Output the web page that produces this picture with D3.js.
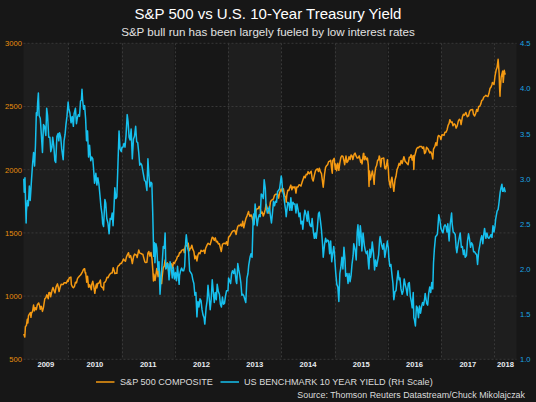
<!DOCTYPE html>
<html><head><meta charset="utf-8">
<script src="https://cdn.jsdelivr.net/npm/d3@7"></script>
<style>html,body{margin:0;padding:0;background:#171717;}svg{display:block;font-family:"Liberation Sans",Arial,sans-serif;}</style>
</head><body><svg id="c" width="536" height="402"></svg>
<script>
const titleText = "S&P 500 vs U.S. 10-Year Treasury Yield";
const subtitleText = "S&P bull run has been largely fueled by low interest rates";
const sourceText = "Source: Thomson Reuters Datastream/Chuck Mikolajczak";
const seriesNames = ["S&P 500 COMPOSITE", "US BENCHMARK 10 YEAR YIELD (RH Scale)"];
const leftTicks = [500, 1000, 1500, 2000, 2500, 3000];
const rightTicks = [1.0, 1.5, 2.0, 2.5, 3.0, 3.5, 4.0, 4.5];
const years = [2009, 2010, 2011, 2012, 2013, 2014, 2015, 2016, 2017, 2018];

const spx = [
["2009-03-02",700],["2009-03-09",677],["2009-03-13",757],["2009-03-20",768],["2009-03-26",816],["2009-03-30",787],["2009-04-03",843],["2009-04-09",857],["2009-04-17",870],["2009-04-20",832],["2009-04-24",866],["2009-05-01",878],["2009-05-08",929],["2009-05-14",884],["2009-05-19",908],["2009-05-27",893],["2009-06-03",932],["2009-06-12",946],["2009-06-19",921],["2009-06-23",896],["2009-06-30",919],["2009-07-08",879],["2009-07-14",905],["2009-07-24",979],["2009-07-31",987],["2009-08-07",1010],["2009-08-17",980],["2009-08-21",1027],["2009-08-28",1029],["2009-09-02",995],["2009-09-11",1042],["2009-09-18",1068],["2009-09-25",1044],["2009-10-02",1025],["2009-10-09",1071],["2009-10-19",1097],["2009-10-23",1079],["2009-10-30",1036],["2009-11-06",1069],["2009-11-13",1093],["2009-11-20",1091],["2009-11-27",1092],["2009-12-04",1106],["2009-12-11",1106],["2009-12-18",1102],["2009-12-28",1127],["2009-12-31",1115],
["2010-01-08",1145],["2010-01-19",1150],["2010-01-22",1092],["2010-01-29",1074],["2010-02-05",1066],["2010-02-12",1075],["2010-02-19",1109],["2010-02-26",1104],["2010-03-05",1138],["2010-03-12",1150],["2010-03-19",1159],["2010-03-26",1167],["2010-04-02",1179],["2010-04-09",1194],["2010-04-15",1211],["2010-04-23",1217],["2010-04-27",1183],["2010-04-30",1187],["2010-05-06",1128],["2010-05-07",1110],["2010-05-13",1157],["2010-05-20",1071],["2010-05-25",1074],["2010-05-28",1089],["2010-06-04",1065],["2010-06-08",1050],["2010-06-11",1092],["2010-06-18",1117],["2010-06-25",1076],["2010-07-02",1022],["2010-07-09",1078],["2010-07-14",1096],["2010-07-16",1065],["2010-07-23",1102],["2010-07-30",1102],["2010-08-09",1127],["2010-08-13",1080],["2010-08-20",1071],["2010-08-27",1065],["2010-08-31",1049],["2010-09-03",1105],["2010-09-10",1110],["2010-09-17",1125],["2010-09-24",1149],["2010-10-01",1146],["2010-10-08",1165],["2010-10-15",1176],["2010-10-22",1183],["2010-10-29",1183],["2010-11-05",1225],["2010-11-12",1199],["2010-11-16",1178],["2010-11-23",1180],["2010-11-30",1180],["2010-12-03",1224],["2010-12-10",1240],["2010-12-17",1244],["2010-12-23",1257],["2010-12-31",1258],
["2011-01-07",1272],["2011-01-14",1293],["2011-01-21",1283],["2011-01-28",1276],["2011-02-04",1310],["2011-02-11",1329],["2011-02-18",1343],["2011-02-24",1306],["2011-03-04",1321],["2011-03-10",1295],["2011-03-16",1257],["2011-03-25",1314],["2011-04-01",1332],["2011-04-08",1328],["2011-04-15",1320],["2011-04-18",1305],["2011-04-29",1364],["2011-05-06",1340],["2011-05-13",1338],["2011-05-20",1333],["2011-05-27",1331],["2011-06-03",1300],["2011-06-10",1271],["2011-06-15",1266],["2011-06-24",1268],["2011-07-01",1340],["2011-07-07",1353],["2011-07-15",1316],["2011-07-22",1345],["2011-07-29",1292],["2011-08-04",1200],["2011-08-08",1119],["2011-08-11",1172],["2011-08-19",1124],["2011-08-26",1177],["2011-08-31",1219],["2011-09-09",1154],["2011-09-16",1216],["2011-09-22",1130],["2011-09-30",1131],["2011-10-03",1099],["2011-10-07",1155],["2011-10-14",1224],["2011-10-21",1238],["2011-10-27",1285],["2011-11-01",1219],["2011-11-04",1253],["2011-11-11",1263],["2011-11-18",1216],["2011-11-25",1159],["2011-11-30",1247],["2011-12-09",1255],["2011-12-16",1219],["2011-12-23",1265],["2011-12-30",1258],
["2012-01-06",1278],["2012-01-13",1289],["2012-01-20",1315],["2012-01-27",1316],["2012-02-03",1345],["2012-02-10",1343],["2012-02-17",1362],["2012-02-24",1366],["2012-03-02",1370],["2012-03-06",1344],["2012-03-09",1371],["2012-03-16",1404],["2012-03-23",1397],["2012-03-30",1408],["2012-04-02",1419],["2012-04-10",1358],["2012-04-13",1370],["2012-04-20",1378],["2012-04-27",1403],["2012-05-04",1369],["2012-05-11",1353],["2012-05-18",1295],["2012-05-25",1318],["2012-06-01",1278],["2012-06-08",1325],["2012-06-15",1343],["2012-06-22",1335],["2012-06-29",1362],["2012-07-06",1355],["2012-07-13",1357],["2012-07-20",1363],["2012-07-25",1338],["2012-07-31",1379],["2012-08-10",1405],["2012-08-17",1418],["2012-08-24",1411],["2012-08-31",1407],["2012-09-07",1438],["2012-09-14",1466],["2012-09-21",1460],["2012-09-28",1441],["2012-10-05",1461],["2012-10-12",1429],["2012-10-19",1433],["2012-10-26",1412],["2012-11-02",1414],["2012-11-09",1380],["2012-11-15",1353],["2012-11-23",1409],["2012-11-30",1416],["2012-12-07",1418],["2012-12-14",1413],["2012-12-21",1430],["2012-12-28",1402],["2012-12-31",1426],
["2013-01-04",1466],["2013-01-11",1472],["2013-01-18",1486],["2013-01-25",1503],["2013-02-01",1513],["2013-02-08",1518],["2013-02-15",1520],["2013-02-25",1488],["2013-03-01",1518],["2013-03-08",1551],["2013-03-15",1560],["2013-03-22",1556],["2013-03-28",1569],["2013-04-05",1553],["2013-04-11",1593],["2013-04-18",1541],["2013-04-26",1582],["2013-05-03",1614],["2013-05-10",1633],["2013-05-21",1669],["2013-05-24",1650],["2013-05-31",1631],["2013-06-07",1643],["2013-06-14",1626],["2013-06-24",1573],["2013-06-28",1606],["2013-07-05",1632],["2013-07-12",1680],["2013-07-19",1692],["2013-07-26",1691],["2013-08-02",1710],["2013-08-09",1691],["2013-08-16",1655],["2013-08-23",1664],["2013-08-30",1633],["2013-09-06",1655],["2013-09-13",1688],["2013-09-18",1726],["2013-09-27",1692],["2013-10-04",1691],["2013-10-08",1655],["2013-10-18",1745],["2013-10-25",1759],["2013-11-01",1762],["2013-11-08",1771],["2013-11-15",1798],["2013-11-22",1805],["2013-11-29",1806],["2013-12-06",1805],["2013-12-13",1775],["2013-12-20",1818],["2013-12-31",1848],
["2014-01-03",1832],["2014-01-10",1842],["2014-01-15",1848],["2014-01-24",1790],["2014-01-31",1783],["2014-02-03",1742],["2014-02-07",1797],["2014-02-14",1838],["2014-02-21",1836],["2014-02-28",1859],["2014-03-07",1878],["2014-03-14",1841],["2014-03-21",1866],["2014-03-28",1857],["2014-04-04",1865],["2014-04-11",1815],["2014-04-17",1864],["2014-04-25",1863],["2014-05-02",1881],["2014-05-09",1878],["2014-05-15",1870],["2014-05-23",1900],["2014-05-30",1924],["2014-06-06",1949],["2014-06-13",1936],["2014-06-20",1963],["2014-06-27",1961],["2014-07-03",1985],["2014-07-11",1968],["2014-07-18",1978],["2014-07-24",1988],["2014-07-31",1931],["2014-08-07",1910],["2014-08-15",1955],["2014-08-22",1988],["2014-08-29",2003],["2014-09-05",2007],["2014-09-12",1985],["2014-09-18",2011],["2014-09-26",1982],["2014-10-03",1968],["2014-10-10",1906],["2014-10-15",1862],["2014-10-24",1965],["2014-10-31",2018],["2014-11-07",2032],["2014-11-14",2039],["2014-11-21",2064],["2014-11-28",2067],["2014-12-05",2075],["2014-12-12",2002],["2014-12-16",1972],["2014-12-19",2071],["2014-12-29",2090],["2014-12-31",2059],
["2015-01-06",2003],["2015-01-09",2045],["2015-01-15",1992],["2015-01-23",2051],["2015-01-30",1995],["2015-02-06",2055],["2015-02-13",2097],["2015-02-20",2110],["2015-02-27",2105],["2015-03-06",2071],["2015-03-11",2040],["2015-03-20",2108],["2015-03-26",2057],["2015-04-02",2067],["2015-04-10",2102],["2015-04-17",2081],["2015-04-24",2117],["2015-05-01",2108],["2015-05-06",2080],["2015-05-15",2123],["2015-05-21",2131],["2015-05-29",2107],["2015-06-05",2092],["2015-06-12",2094],["2015-06-19",2110],["2015-06-29",2058],["2015-07-02",2077],["2015-07-08",2046],["2015-07-17",2127],["2015-07-20",2129],["2015-07-24",2079],["2015-07-31",2104],["2015-08-07",2078],["2015-08-14",2092],["2015-08-20",2036],["2015-08-25",1868],["2015-08-28",1989],["2015-09-04",1921],["2015-09-11",1961],["2015-09-17",1990],["2015-09-25",1932],["2015-09-29",1884],["2015-10-02",1951],["2015-10-09",2015],["2015-10-16",2033],["2015-10-23",2075],["2015-10-30",2079],["2015-11-03",2109],["2015-11-06",2099],["2015-11-13",2023],["2015-11-20",2089],["2015-11-27",2090],["2015-12-04",2092],["2015-12-11",2012],["2015-12-14",2022],["2015-12-18",2006],["2015-12-29",2078],["2015-12-31",2044],
["2016-01-04",2013],["2016-01-08",1922],["2016-01-15",1880],["2016-01-20",1859],["2016-01-22",1907],["2016-01-29",1940],["2016-02-05",1880],["2016-02-11",1829],["2016-02-19",1918],["2016-02-26",1948],["2016-03-04",2000],["2016-03-11",2022],["2016-03-18",2050],["2016-03-24",2036],["2016-04-01",2073],["2016-04-08",2048],["2016-04-15",2081],["2016-04-20",2102],["2016-04-29",2065],["2016-05-06",2058],["2016-05-13",2047],["2016-05-19",2040],["2016-05-27",2099],["2016-06-03",2099],["2016-06-08",2119],["2016-06-16",2077],["2016-06-23",2113],["2016-06-27",2001],["2016-07-01",2103],["2016-07-08",2130],["2016-07-15",2162],["2016-07-22",2175],["2016-07-29",2174],["2016-08-05",2183],["2016-08-12",2184],["2016-08-19",2184],["2016-08-26",2169],["2016-09-02",2180],["2016-09-09",2128],["2016-09-16",2139],["2016-09-22",2177],["2016-09-30",2168],["2016-10-07",2153],["2016-10-14",2133],["2016-10-21",2141],["2016-10-28",2126],["2016-11-04",2085],["2016-11-09",2163],["2016-11-18",2182],["2016-11-25",2213],["2016-12-02",2192],["2016-12-09",2259],["2016-12-13",2271],["2016-12-23",2264],["2016-12-30",2239],
["2017-01-06",2277],["2017-01-13",2275],["2017-01-20",2271],["2017-01-26",2297],["2017-02-03",2297],["2017-02-10",2316],["2017-02-17",2351],["2017-02-24",2367],["2017-03-01",2396],["2017-03-10",2373],["2017-03-17",2378],["2017-03-22",2348],["2017-03-31",2363],["2017-04-07",2355],["2017-04-13",2329],["2017-04-21",2349],["2017-04-28",2384],["2017-05-05",2399],["2017-05-12",2391],["2017-05-17",2357],["2017-05-26",2416],["2017-06-02",2439],["2017-06-09",2432],["2017-06-19",2453],["2017-06-23",2438],["2017-06-29",2419],["2017-07-07",2425],["2017-07-14",2459],["2017-07-21",2473],["2017-07-27",2475],["2017-08-04",2477],["2017-08-10",2438],["2017-08-18",2425],["2017-08-25",2444],["2017-09-01",2476],["2017-09-08",2461],["2017-09-15",2500],["2017-09-22",2502],["2017-09-29",2519],["2017-10-06",2549],["2017-10-13",2553],["2017-10-20",2575],["2017-10-27",2581],["2017-11-03",2588],["2017-11-10",2582],["2017-11-17",2579],["2017-11-24",2602],["2017-12-01",2642],["2017-12-08",2652],["2017-12-15",2675],["2017-12-18",2690],["2017-12-29",2674],
["2018-01-05",2743],["2018-01-12",2786],["2018-01-19",2810],["2018-01-26",2873],["2018-02-02",2762],["2018-02-05",2649],["2018-02-08",2581],["2018-02-09",2620],["2018-02-16",2732],["2018-02-26",2780],["2018-03-02",2691],["2018-03-09",2786],["2018-03-13",2765],["2018-03-16",2752]
];

const yld = [
["2009-03-02",3.00],["2009-03-05",2.85],["2009-03-10",3.01],["2009-03-18",2.51],["2009-03-20",2.64],["2009-03-27",2.76],["2009-04-02",2.70],["2009-04-09",2.92],["2009-04-15",2.76],["2009-04-24",2.99],["2009-05-01",3.16],["2009-05-08",3.29],["2009-05-15",3.14],["2009-05-21",3.37],["2009-05-27",3.73],["2009-06-01",3.70],["2009-06-05",3.84],["2009-06-10",3.95],["2009-06-15",3.70],["2009-06-23",3.67],["2009-06-30",3.50],["2009-07-08",3.29],["2009-07-15",3.60],["2009-07-22",3.58],["2009-07-31",3.48],["2009-08-06",3.78],["2009-08-12",3.70],["2009-08-20",3.46],["2009-08-28",3.46],["2009-09-03",3.30],["2009-09-11",3.35],["2009-09-16",3.46],["2009-09-24",3.36],["2009-10-01",3.20],["2009-10-07",3.18],["2009-10-15",3.47],["2009-10-23",3.50],["2009-10-28",3.42],["2009-11-02",3.51],["2009-11-10",3.46],["2009-11-17",3.33],["2009-11-27",3.21],["2009-12-03",3.42],["2009-12-10",3.49],["2009-12-16",3.60],["2009-12-23",3.69],["2009-12-31",3.85],
["2010-01-05",3.77],["2010-01-12",3.73],["2010-01-20",3.62],["2010-01-28",3.69],["2010-02-05",3.58],["2010-02-10",3.72],["2010-02-19",3.78],["2010-02-26",3.61],["2010-03-05",3.68],["2010-03-12",3.71],["2010-03-19",3.69],["2010-03-26",3.86],["2010-04-01",3.87],["2010-04-05",3.99],["2010-04-09",3.88],["2010-04-16",3.77],["2010-04-23",3.81],["2010-04-30",3.66],["2010-05-06",3.42],["2010-05-13",3.53],["2010-05-20",3.24],["2010-05-27",3.37],["2010-06-04",3.20],["2010-06-11",3.24],["2010-06-18",3.22],["2010-06-24",3.10],["2010-06-30",2.95],["2010-07-09",3.06],["2010-07-16",2.93],["2010-07-23",3.01],["2010-07-30",2.94],["2010-08-06",2.82],["2010-08-13",2.69],["2010-08-20",2.61],["2010-08-25",2.50],["2010-08-31",2.47],["2010-09-09",2.77],["2010-09-15",2.73],["2010-09-22",2.56],["2010-09-30",2.51],["2010-10-08",2.39],["2010-10-15",2.56],["2010-10-22",2.55],["2010-10-29",2.62],["2010-11-04",2.48],["2010-11-10",2.67],["2010-11-16",2.90],["2010-11-23",2.78],["2010-11-30",2.80],["2010-12-07",3.13],["2010-12-15",3.53],["2010-12-22",3.33],["2010-12-31",3.30],
["2011-01-04",3.35],["2011-01-11",3.35],["2011-01-18",3.39],["2011-01-25",3.35],["2011-02-01",3.48],["2011-02-09",3.71],["2011-02-15",3.63],["2011-02-22",3.46],["2011-03-01",3.43],["2011-03-08",3.55],["2011-03-16",3.22],["2011-03-24",3.44],["2011-03-31",3.47],["2011-04-08",3.58],["2011-04-15",3.41],["2011-04-22",3.40],["2011-04-29",3.29],["2011-05-06",3.15],["2011-05-13",3.17],["2011-05-20",3.15],["2011-05-31",3.05],["2011-06-08",2.98],["2011-06-15",2.97],["2011-06-24",2.87],["2011-07-01",3.22],["2011-07-08",3.03],["2011-07-15",2.91],["2011-07-22",2.96],["2011-07-28",2.95],["2011-08-03",2.62],["2011-08-10",2.14],["2011-08-15",2.29],["2011-08-18",2.07],["2011-08-25",2.28],["2011-08-31",2.23],["2011-09-08",1.99],["2011-09-15",2.08],["2011-09-22",1.72],["2011-09-30",1.92],["2011-10-07",2.07],["2011-10-14",2.25],["2011-10-21",2.23],["2011-10-27",2.40],["2011-11-01",2.00],["2011-11-08",2.03],["2011-11-15",2.06],["2011-11-23",1.88],["2011-11-30",2.08],["2011-12-07",2.03],["2011-12-15",1.90],["2011-12-22",2.02],["2011-12-30",1.89],
["2012-01-06",1.96],["2012-01-13",1.87],["2012-01-20",2.03],["2012-01-31",1.83],["2012-02-03",1.93],["2012-02-10",1.98],["2012-02-17",2.01],["2012-02-24",1.98],["2012-03-02",1.98],["2012-03-09",2.03],["2012-03-16",2.30],["2012-03-20",2.38],["2012-03-30",2.23],["2012-04-05",2.19],["2012-04-12",1.98],["2012-04-20",1.96],["2012-04-27",1.94],["2012-05-04",1.88],["2012-05-11",1.84],["2012-05-18",1.71],["2012-05-25",1.74],["2012-06-01",1.47],["2012-06-08",1.64],["2012-06-15",1.58],["2012-06-22",1.67],["2012-06-29",1.65],["2012-07-06",1.55],["2012-07-13",1.49],["2012-07-20",1.46],["2012-07-25",1.39],["2012-08-03",1.57],["2012-08-10",1.65],["2012-08-16",1.82],["2012-08-24",1.68],["2012-08-31",1.55],["2012-09-07",1.67],["2012-09-14",1.88],["2012-09-21",1.75],["2012-09-28",1.63],["2012-10-05",1.74],["2012-10-12",1.66],["2012-10-18",1.83],["2012-10-26",1.75],["2012-11-02",1.72],["2012-11-09",1.61],["2012-11-16",1.58],["2012-11-23",1.69],["2012-11-30",1.61],["2012-12-07",1.62],["2012-12-14",1.70],["2012-12-21",1.76],["2012-12-31",1.76],
["2013-01-04",1.90],["2013-01-11",1.87],["2013-01-18",1.84],["2013-01-25",1.95],["2013-01-31",1.98],["2013-02-08",1.95],["2013-02-15",2.00],["2013-02-25",1.86],["2013-03-01",1.84],["2013-03-08",2.06],["2013-03-15",1.99],["2013-03-22",1.93],["2013-03-29",1.85],["2013-04-05",1.71],["2013-04-12",1.72],["2013-04-19",1.70],["2013-04-26",1.66],["2013-05-02",1.63],["2013-05-10",1.90],["2013-05-17",1.95],["2013-05-22",2.04],["2013-05-31",2.13],["2013-06-07",2.17],["2013-06-14",2.13],["2013-06-21",2.53],["2013-06-25",2.61],["2013-06-28",2.49],["2013-07-05",2.72],["2013-07-12",2.59],["2013-07-19",2.48],["2013-07-26",2.56],["2013-08-02",2.60],["2013-08-09",2.58],["2013-08-16",2.83],["2013-08-23",2.82],["2013-08-30",2.78],["2013-09-05",2.99],["2013-09-13",2.89],["2013-09-18",2.70],["2013-09-27",2.62],["2013-10-04",2.65],["2013-10-11",2.69],["2013-10-18",2.59],["2013-10-25",2.51],["2013-11-01",2.62],["2013-11-08",2.75],["2013-11-15",2.70],["2013-11-22",2.75],["2013-11-29",2.74],["2013-12-06",2.86],["2013-12-13",2.87],["2013-12-20",2.89],["2013-12-31",3.03],
["2014-01-03",3.00],["2014-01-10",2.86],["2014-01-17",2.82],["2014-01-24",2.72],["2014-01-31",2.64],["2014-02-03",2.58],["2014-02-14",2.74],["2014-02-21",2.73],["2014-02-28",2.65],["2014-03-07",2.79],["2014-03-14",2.65],["2014-03-21",2.74],["2014-03-28",2.72],["2014-04-04",2.72],["2014-04-11",2.62],["2014-04-18",2.72],["2014-04-25",2.66],["2014-05-02",2.58],["2014-05-09",2.62],["2014-05-15",2.50],["2014-05-23",2.53],["2014-05-28",2.44],["2014-06-06",2.59],["2014-06-11",2.65],["2014-06-20",2.60],["2014-06-27",2.53],["2014-07-03",2.64],["2014-07-11",2.52],["2014-07-18",2.48],["2014-07-25",2.47],["2014-07-31",2.56],["2014-08-08",2.42],["2014-08-15",2.34],["2014-08-22",2.40],["2014-08-28",2.34],["2014-09-05",2.46],["2014-09-12",2.61],["2014-09-18",2.63],["2014-09-26",2.53],["2014-10-03",2.43],["2014-10-10",2.28],["2014-10-15",2.13],["2014-10-24",2.27],["2014-10-31",2.34],["2014-11-07",2.30],["2014-11-14",2.32],["2014-11-21",2.31],["2014-11-28",2.17],["2014-12-05",2.31],["2014-12-12",2.08],["2014-12-19",2.17],["2014-12-26",2.25],["2014-12-31",2.17],
["2015-01-02",2.11],["2015-01-09",1.95],["2015-01-16",1.83],["2015-01-23",1.80],["2015-01-30",1.64],["2015-02-06",1.95],["2015-02-13",2.02],["2015-02-20",2.13],["2015-02-27",2.00],["2015-03-06",2.24],["2015-03-13",2.11],["2015-03-18",1.92],["2015-03-27",1.95],["2015-04-03",1.84],["2015-04-10",1.95],["2015-04-17",1.86],["2015-04-24",1.93],["2015-04-30",2.05],["2015-05-08",2.15],["2015-05-12",2.28],["2015-05-22",2.21],["2015-05-29",2.10],["2015-06-05",2.41],["2015-06-10",2.49],["2015-06-19",2.26],["2015-06-26",2.48],["2015-07-02",2.38],["2015-07-07",2.20],["2015-07-15",2.40],["2015-07-24",2.26],["2015-07-31",2.20],["2015-08-07",2.17],["2015-08-14",2.20],["2015-08-21",2.05],["2015-08-24",2.00],["2015-08-31",2.22],["2015-09-04",2.13],["2015-09-11",2.19],["2015-09-16",2.30],["2015-09-25",2.17],["2015-10-02",1.99],["2015-10-09",2.10],["2015-10-16",2.03],["2015-10-23",2.09],["2015-10-30",2.16],["2015-11-06",2.33],["2015-11-09",2.36],["2015-11-20",2.26],["2015-11-27",2.22],["2015-12-04",2.28],["2015-12-11",2.13],["2015-12-18",2.20],["2015-12-29",2.31],["2015-12-31",2.27],
["2016-01-04",2.24],["2016-01-08",2.12],["2016-01-15",2.03],["2016-01-22",2.05],["2016-01-29",1.94],["2016-02-05",1.84],["2016-02-11",1.66],["2016-02-19",1.75],["2016-02-26",1.76],["2016-03-04",1.88],["2016-03-11",1.98],["2016-03-18",1.88],["2016-03-24",1.90],["2016-03-31",1.78],["2016-04-08",1.72],["2016-04-15",1.76],["2016-04-22",1.89],["2016-04-29",1.83],["2016-05-06",1.78],["2016-05-13",1.71],["2016-05-20",1.84],["2016-05-27",1.85],["2016-06-03",1.70],["2016-06-10",1.64],["2016-06-16",1.57],["2016-06-23",1.74],["2016-06-27",1.46],["2016-07-01",1.44],["2016-07-08",1.37],["2016-07-15",1.59],["2016-07-22",1.57],["2016-07-29",1.46],["2016-08-05",1.59],["2016-08-12",1.51],["2016-08-19",1.58],["2016-08-26",1.63],["2016-09-02",1.60],["2016-09-09",1.67],["2016-09-13",1.73],["2016-09-23",1.62],["2016-09-30",1.60],["2016-10-07",1.73],["2016-10-14",1.80],["2016-10-21",1.74],["2016-10-28",1.85],["2016-11-04",1.78],["2016-11-09",2.07],["2016-11-15",2.22],["2016-11-23",2.36],["2016-11-30",2.37],["2016-12-06",2.39],["2016-12-15",2.60],["2016-12-22",2.55],["2016-12-30",2.45],
["2017-01-06",2.42],["2017-01-13",2.40],["2017-01-20",2.47],["2017-01-27",2.49],["2017-02-03",2.47],["2017-02-10",2.41],["2017-02-15",2.50],["2017-02-24",2.31],["2017-03-03",2.49],["2017-03-13",2.62],["2017-03-17",2.50],["2017-03-24",2.41],["2017-03-31",2.40],["2017-04-07",2.38],["2017-04-13",2.24],["2017-04-18",2.18],["2017-04-28",2.29],["2017-05-05",2.35],["2017-05-11",2.40],["2017-05-19",2.24],["2017-05-26",2.25],["2017-06-02",2.16],["2017-06-09",2.21],["2017-06-14",2.13],["2017-06-23",2.15],["2017-06-30",2.31],["2017-07-07",2.39],["2017-07-14",2.33],["2017-07-21",2.24],["2017-07-28",2.29],["2017-08-04",2.27],["2017-08-11",2.19],["2017-08-18",2.19],["2017-08-25",2.17],["2017-09-01",2.16],["2017-09-07",2.05],["2017-09-15",2.20],["2017-09-22",2.26],["2017-09-29",2.33],["2017-10-06",2.37],["2017-10-13",2.28],["2017-10-20",2.39],["2017-10-25",2.45],["2017-11-03",2.34],["2017-11-10",2.40],["2017-11-17",2.35],["2017-11-24",2.34],["2017-12-01",2.36],["2017-12-08",2.38],["2017-12-15",2.35],["2017-12-22",2.48],["2017-12-29",2.41],
["2018-01-05",2.48],["2018-01-09",2.55],["2018-01-19",2.64],["2018-01-26",2.66],["2018-01-31",2.72],["2018-02-05",2.79],["2018-02-09",2.85],["2018-02-15",2.90],["2018-02-21",2.94],["2018-02-26",2.86],["2018-03-02",2.86],["2018-03-09",2.90],["2018-03-16",2.85]
];

const lightYears = [2009, 2011, 2013, 2015, 2017, 2018];

const colors = { spx: "#f59a12", yld: "#16c0ee", leftTick: "#e8900e", rightTick: "#1ba6e4",
  bg: "#171717", bandLight: "#1e1e1e", bandDark: "#171717", grid: "#383838", text: "#dcdcdc" };

const W = 536, H = 402;
const plot = { left: 23.5, right: 516.5, top: 43.3, bottom: 359.3 };
const parse = d3.timeParse("%Y-%m-%d");

const svg = d3.select("#c");
svg.append("rect").attr("width", W).attr("height", H).attr("fill", colors.bg);

const x = d3.scaleTime().domain([parse("2009-02-28"), parse("2018-06-01")]).range([plot.left, plot.right]);
const yL = d3.scaleLinear().domain([500, 3000]).range([plot.bottom, plot.top]);
const yR = d3.scaleLinear().domain([1.0, 4.5]).range([plot.bottom, plot.top]);

// year bands + labels
years.forEach(yr => {
  const x0 = Math.max(x(new Date(yr, 0, 1)), plot.left);
  const x1 = Math.min(x(new Date(yr + 1, 0, 1)), plot.right);
  svg.append("rect").attr("x", x0).attr("y", plot.top).attr("width", x1 - x0).attr("height", plot.bottom - plot.top)
    .attr("fill", lightYears.includes(yr) ? colors.bandLight : colors.bandDark);
  svg.append("text").attr("x", (x0 + x1) / 2).attr("y", 366.8).attr("text-anchor", "middle")
    .attr("font-size", 7.6).attr("font-weight", "bold").attr("fill", "#e8ecf2").text(yr);
});

// gridlines
const g = svg.append("g");
leftTicks.forEach(t => {
  g.append("line").attr("x1", plot.left).attr("x2", plot.right).attr("y1", yL(t)).attr("y2", yL(t))
    .attr("stroke", colors.grid).attr("stroke-width", 1).attr("stroke-dasharray", "2,2");
});
years.slice(1).forEach(yr => {
  const xv = Math.round(x(new Date(yr, 0, 1))) + 0.5;
  g.append("line").attr("x1", xv).attr("x2", xv).attr("y1", plot.top).attr("y2", plot.bottom)
    .attr("stroke", colors.grid).attr("stroke-width", 1).attr("stroke-dasharray", "2,2");
});

// axis labels
const axL = d3.axisLeft(yL).tickValues(leftTicks).tickSize(0).tickPadding(0).tickFormat(d3.format("d"));
const gl = svg.append("g").attr("transform", "translate(22,0)").call(axL);
gl.select(".domain").remove();
gl.selectAll("text").attr("fill", colors.leftTick).attr("font-size", 7.6).attr("font-family", "Liberation Sans, Arial, sans-serif");

const axR = d3.axisLeft(yR).tickValues(rightTicks).tickSize(0).tickPadding(0).tickFormat(d3.format(".1f"));
const gr = svg.append("g").attr("transform", "translate(530.5,0)").call(axR);
gr.select(".domain").remove();
gr.selectAll("text").attr("fill", colors.rightTick).attr("font-size", 7.6).attr("font-family", "Liberation Sans, Arial, sans-serif");

// lines
const lineL = d3.line().x(d => x(parse(d[0]))).y(d => yL(d[1]));
const lineR = d3.line().x(d => x(parse(d[0]))).y(d => yR(d[1]));
svg.append("path").datum(spx).attr("d", lineL).attr("fill", "none").attr("stroke", colors.spx).attr("stroke-width", 1.5).attr("stroke-linejoin", "round");
svg.append("path").datum(yld).attr("d", lineR).attr("fill", "none").attr("stroke", colors.yld).attr("stroke-width", 1.5).attr("stroke-linejoin", "round");

// titles
svg.append("text").attr("x", 268).attr("y", 19).attr("text-anchor", "middle").attr("font-size", 15).attr("fill", "#ffffff").text(titleText);
svg.append("text").attr("x", 268).attr("y", 35.8).attr("text-anchor", "middle").attr("font-size", 11.6).attr("fill", "#e2e2e2").text(subtitleText);

// legend
const legend = [{ x0: 96, x1: 114.5, tx: 120, c: colors.spx, t: seriesNames[0] }, { x0: 220.5, x1: 239, tx: 244, c: colors.yld, t: seriesNames[1] }];
legend.forEach(l => {
  svg.append("line").attr("x1", l.x0).attr("x2", l.x1).attr("y1", 382).attr("y2", 382).attr("stroke", l.c).attr("stroke-width", 1.5);
  svg.append("text").attr("x", l.tx).attr("y", 385.3).attr("font-size", 9.1).attr("fill", colors.text).text(l.t);
});
svg.append("text").attr("x", 525).attr("y", 398).attr("text-anchor", "end").attr("font-size", 8.9).attr("fill", colors.text).text(sourceText);
</script></body></html>
